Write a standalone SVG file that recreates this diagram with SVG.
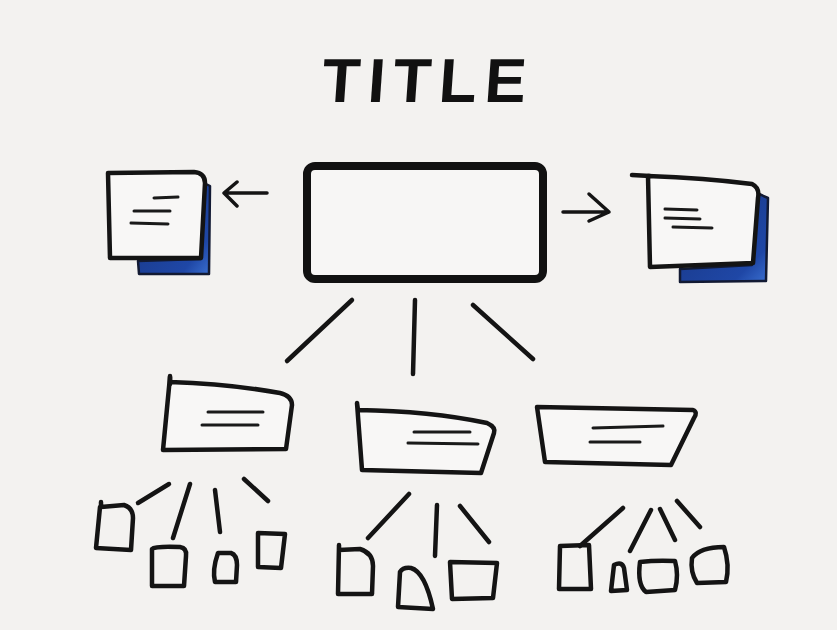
<svg xmlns="http://www.w3.org/2000/svg" width="837" height="630" viewBox="0 0 837 630">
  <style>
    .ink { fill: none; stroke: #141414; stroke-width: 4.5; stroke-linecap: round; stroke-linejoin: round; }
    .thin { fill: none; stroke: #141414; stroke-width: 3.5; stroke-linecap: round; stroke-linejoin: round; }
    .paper { fill: #f8f7f6; stroke: #141414; stroke-width: 4.5; stroke-linecap: round; stroke-linejoin: round; }
    .txt { fill: none; stroke: #1a1a1a; stroke-width: 3; stroke-linecap: round; }
    .shadow { stroke: #121a33; stroke-width: 2.5; stroke-linejoin: round; }
    .title { font-family: "Liberation Sans", Arial, sans-serif; font-weight: bold; font-size: 62px; fill: #111; letter-spacing: 8px; }
  </style>
  <defs>
    <linearGradient id="sheen" x1="0" y1="0" x2="1" y2="1">
      <stop offset="0" stop-color="#17347f"/>
      <stop offset="0.8" stop-color="#1f47a6"/>
      <stop offset="1" stop-color="#3a6fd0"/>
    </linearGradient>
  </defs>

  <rect width="837" height="630" fill="#f3f2f0"/>

  <text class="title" x="427" y="102" text-anchor="middle" transform="skewX(-4) translate(7 0)">TITLE</text>

  <!-- main box -->
  <g id="main">
    <rect x="307" y="166" width="236" height="113" rx="8" fill="#f7f6f5" stroke="#111" stroke-width="8"/>
  </g>

  <!-- side documents -->
  <g id="doc-left">
    <path class="shadow" style="fill:url(#sheen)" d="M202,182 L210,186 L209,274 L139,274 L138,261 L201,259 Z"/>
    <path class="paper" d="M108,173 L194,172 Q205,173 205,183 L201,258 L110,258 Z"/>
    <path class="txt" d="M154,198 L178,197 M134,211 L170,211 M131,223 L168,224"/>
  </g>

  <g id="doc-right">
    <path class="shadow" style="fill:url(#sheen)" d="M757,193 L768,198 L766,281 L680,282 L680,269 L752,265 Z"/>
    <path class="paper" d="M648,176 Q705,178 752,184 Q760,188 758,198 L753,263 L650,267 Z"/>
    <path class="ink" d="M632,175 L650,176"/>
    <path class="txt" d="M665,209 L697,210 M665,218 L700,219 M673,227 L712,228"/>
  </g>

  <!-- second level -->
  <g id="sub-1">
    <path class="paper" d="M170,377 L170,382 Q230,384 280,393 Q292,396 292,405 L286,449 L163,450 Z"/>
    <path class="ink" d="M170,376 L170,384"/>
    <path class="txt" d="M208,412 L263,412 M202,425 L258,425"/>
  </g>
  <g id="sub-2">
    <path class="paper" d="M357,403 L358,410 Q430,411 487,423 Q496,427 494,433 L481,473 L362,470 Z"/>
    <path class="txt" d="M414,432 L470,432 M408,443 L478,444"/>
  </g>
  <g id="sub-3">
    <path class="paper" d="M537,407 L693,410 Q698,412 694,418 L671,465 L545,462 Z"/>
    <path class="txt" d="M593,428 L663,426 M590,442 L640,442"/>
  </g>

  <!-- leaves -->
  <g id="leaf-a"><path class="ink" d="M101,502 L101,507 L124,505 Q133,508 133,518 L131,550 L96,548 L100,507"/></g>
  <g id="leaf-b"><path class="ink" d="M152,549 Q155,546 180,547 Q187,548 186,556 L184,586 L152,586 Z"/></g>
  <g id="leaf-c"><path class="ink" d="M218,553 L231,553 Q237,555 237,565 L236,582 L215,582 Q212,570 218,553 Z"/></g>
  <g id="leaf-d"><path class="ink" d="M258,533 L285,534 L281,568 L258,567 Z"/></g>

  <g id="leaf-e"><path class="ink" d="M339,545 L339,550 L360,549 Q373,553 373,566 L372,594 L338,594 Z"/></g>
  <g id="leaf-f"><path class="ink" d="M400,572 Q403,567 411,568 Q425,572 433,609 L398,607 Z"/></g>
  <g id="leaf-g"><path class="ink" d="M450,562 L497,563 L493,598 L452,599 Z"/></g>

  <g id="leaf-h"><path class="ink" d="M560,546 L589,545 L591,589 L559,589 Z"/></g>
  <g id="leaf-i"><path class="ink" d="M614,565 Q622,561 624,568 L627,590 L611,591 Z"/></g>
  <g id="leaf-j"><path class="ink" d="M640,562 Q656,560 675,561 Q679,575 675,590 L646,592 Q637,585 640,562 Z"/></g>
  <g id="leaf-k"><path class="ink" d="M692,558 Q700,547 724,547 Q730,565 726,582 L697,583 Q690,572 692,558 Z"/></g>

  <!-- connectors -->
  <g id="connectors" class="ink">
    <path class="thin" d="M227,193 L267,193 M237,182 L224,193 L237,206"/>
    <path class="thin" d="M563,212 L609,212 M589,194 L609,212 L589,221"/>

    <path d="M352,300 L287,361"/>
    <path d="M415,300 L413,374"/>
    <path d="M473,305 L533,359"/>

    <path d="M138,503 L169,484"/>
    <path d="M173,538 L190,484"/>
    <path d="M220,532 L215,490"/>
    <path d="M244,479 L268,501"/>

    <path d="M368,538 L409,494"/>
    <path d="M435,556 L437,505"/>
    <path d="M460,506 L489,542"/>

    <path d="M580,546 L623,508"/>
    <path d="M630,551 L651,510"/>
    <path d="M660,509 L675,540"/>
    <path d="M677,501 L700,527"/>
  </g>
</svg>
